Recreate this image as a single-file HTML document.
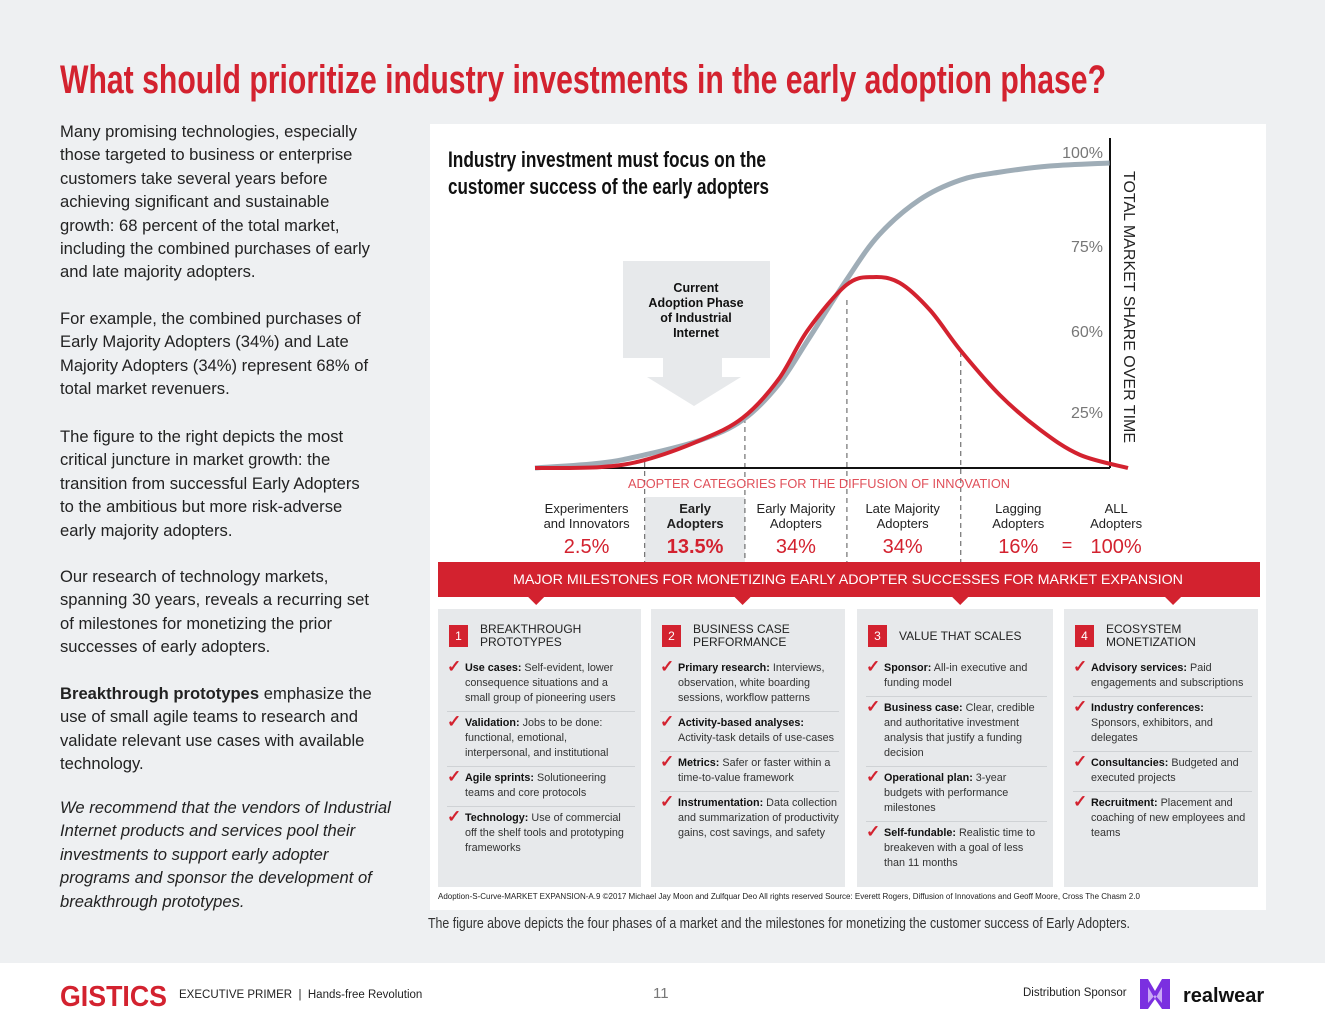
<!DOCTYPE html>
<html><head><meta charset="utf-8">
<style>
*{margin:0;padding:0;box-sizing:border-box}
body{width:1325px;height:1024px;position:relative;background:#eef0f2;font-family:"Liberation Sans",sans-serif;overflow:hidden;color:#222}
.p{position:absolute;left:60px;width:318px;font-size:16.6px;line-height:23.4px;color:#222}
#panel{position:absolute;left:430px;top:124px;width:836px;height:786px;background:#fff}
.col{position:absolute;top:609px;height:278px;background:#e7e9eb;padding:12px 6px 0 9px}
.hd{display:flex;align-items:center;height:30px;margin-bottom:6px;font-size:12px;line-height:13px;color:#222}
.num{width:19px;height:22px;background:#d3222f;color:#fff;font-size:12px;display:flex;align-items:center;justify-content:center;margin:0 12px 0 2px;flex:none}
.it{position:relative;padding:4px 0 5px 18px;font-size:10.8px;line-height:15px;border-bottom:1px solid #cfd2d5;color:#333}
.it:last-child{border-bottom:none}
.it b{color:#111}
.it:before{content:"✓";position:absolute;left:0;top:2px;color:#d3222f;font-weight:bold;font-size:17px}
#footer{position:absolute;left:0;top:963px;width:1325px;height:61px;background:#fff}
</style></head><body>
<svg style="position:absolute;left:0;top:50px" width="1325" height="60"><text x="60" y="43" textLength="1046" lengthAdjust="spacingAndGlyphs" font-family="Liberation Sans Narrow, Liberation Sans, sans-serif" font-weight="bold" font-size="40" fill="#d3222f">What should prioritize industry investments in the early adoption phase?</text></svg>

<div class="p" style="top:120px">Many promising technologies, especially those targeted to business or enterprise customers take several years before achieving significant and sustainable growth: 68 percent of the total market, including the combined purchases of early and late majority adopters.</div>
<div class="p" style="top:307px">For example, the combined purchases of Early Majority Adopters (34%) and Late Majority Adopters (34%) represent 68% of total market revenuers.</div>
<div class="p" style="top:425px">The figure to the right depicts the most critical juncture in market growth: the transition from successful Early Adopters to the ambitious but more risk-adverse early majority adopters.</div>
<div class="p" style="top:565px">Our research of technology markets, spanning 30 years, reveals a recurring set of milestones for monetizing the prior successes of early adopters.</div>
<div class="p" style="top:682px"><b>Breakthrough prototypes</b> emphasize the use of small agile teams to research and validate relevant use cases with available technology.</div>
<div class="p" style="top:796px;font-style:italic;width:340px">We recommend that the vendors of Industrial Internet products and services pool their investments to support early adopter programs and sponsor the development of breakthrough prototypes.</div>

<div id="panel"></div>

<svg id="chart" style="position:absolute;left:0;top:0" width="1325" height="610"></svg>

<div class="col" style="left:438px;width:203px">
<div class="hd"><span class="num">1</span>BREAKTHROUGH<br>PROTOTYPES</div>
<div class="it"><b>Use cases:</b> Self-evident, lower consequence situations and a small group of pioneering users</div>
<div class="it"><b>Validation:</b> Jobs to be done: functional, emotional, interpersonal, and institutional</div>
<div class="it"><b>Agile sprints:</b> Solutioneering teams and core protocols</div>
<div class="it"><b>Technology:</b> Use of commercial off the shelf tools and prototyping frameworks</div>
</div>
<div class="col" style="left:651px;width:194px">
<div class="hd"><span class="num">2</span>BUSINESS CASE<br>PERFORMANCE</div>
<div class="it"><b>Primary research:</b> Interviews, observation, white boarding sessions, workflow patterns</div>
<div class="it"><b>Activity-based analyses:</b> Activity-task details of use-cases</div>
<div class="it"><b>Metrics:</b> Safer or faster within a time-to-value framework</div>
<div class="it"><b>Instrumentation:</b> Data collection and summarization of productivity gains, cost savings, and safety</div>
</div>
<div class="col" style="left:857px;width:196px">
<div class="hd"><span class="num">3</span>VALUE THAT SCALES</div>
<div class="it"><b>Sponsor:</b> All-in executive and funding model</div>
<div class="it"><b>Business case:</b> Clear, credible and authoritative investment analysis that justify a funding decision</div>
<div class="it"><b>Operational plan:</b> 3-year budgets with performance milestones</div>
<div class="it"><b>Self-fundable:</b> Realistic time to breakeven with a goal of less than 11 months</div>
</div>
<div class="col" style="left:1064px;width:194px">
<div class="hd"><span class="num">4</span>ECOSYSTEM<br>MONETIZATION</div>
<div class="it"><b>Advisory services:</b> Paid engagements and subscriptions</div>
<div class="it"><b>Industry conferences:</b> Sponsors, exhibitors, and delegates</div>
<div class="it"><b>Consultancies:</b> Budgeted and executed projects</div>
<div class="it"><b>Recruitment:</b> Placement and coaching of new employees and teams</div>
</div>

<div style="position:absolute;left:438px;top:892px;font-size:8px;color:#222;white-space:nowrap">Adoption-S-Curve-MARKET EXPANSION-A.9 ©2017 Michael Jay Moon and Zulfquar Deo All rights reserved Source: Everett Rogers, Diffusion of Innovations and Geoff Moore, Cross The Chasm 2.0</div>
<svg style="position:absolute;left:428px;top:912px" width="720" height="22"><text x="0" y="16" textLength="702" lengthAdjust="spacingAndGlyphs" font-family="Liberation Sans Narrow, Liberation Sans, sans-serif" font-size="14.5" fill="#333">The figure above depicts the four phases of a market and the milestones for monetizing the customer success of Early Adopters.</text></svg>

<div id="footer">
<svg style="position:absolute;left:60px;top:18px" width="110" height="30"><text x="0" y="25" textLength="107" lengthAdjust="spacingAndGlyphs" font-family="Liberation Sans Narrow, Liberation Sans, sans-serif" font-weight="bold" font-size="29" fill="#d3222f">GISTICS</text></svg>
<div style="position:absolute;left:179px;top:26px;font-size:11.5px;color:#222">EXECUTIVE PRIMER &nbsp;|&nbsp; Hands-free Revolution</div>
<div style="position:absolute;left:653px;top:22px;font-size:15px;color:#777">11</div>
<div style="position:absolute;left:1023px;top:24px;font-size:11.5px;color:#222">Distribution Sponsor</div>
<svg style="position:absolute;left:1138px;top:14px" width="130" height="34"><path d="M2 2 L10 2 L17 14 L24 2 L32 2 L32 32 L24 32 L17 22 L10 32 L2 32Z" fill="#7b2fe0"/><path d="M10 10 L17 22 L24 10 L24 26 L17 18 L10 26Z" fill="#c9a8f5"/><text x="45" y="25" font-family="Liberation Sans, sans-serif" font-weight="bold" font-size="20" fill="#111">realwear</text></svg>
</div>

<script>
// chart data
const redTimes=[0,11,18.5,28,35,41,46,52.5,57,61.5,66.6,71.7,78.4,85.2,91.9,100];
const redValues=[0,0.3,2.6,9.2,16.4,28.9,45.2,60,62.6,60.7,51.8,38.7,23.9,12.5,4.3,0];
const grayTimes=[0,11,18.5,28,35,41,46,52.5,58,64.8,71.7,78.4,86.8,96.9];
const grayValues=[0,1.6,4.3,9.2,15.7,27.2,41.9,61.6,76.4,87.9,94.4,97,99,100];
const yTickLabels=["100%","75%","60%","25%"];
const yTickValues=[103.6,72.8,44.9,18.4];
const categories=[["Experimenters","and Innovators"],["Early","Adopters"],["Early Majority","Adopters"],["Late Majority","Adopters"],["Lagging","Adopters"],["ALL","Adopters"]];
const shares=["2.5%","13.5%","34%","34%","16%","100%"];
const boundaryTimes=[18.5,35.4,52.6,71.8];
const categoryTimes=[8.7,27,44,62,81.5,98];
const arrowTimes=[0.2,35,71.7,107.6];

const NS="http://www.w3.org/2000/svg";
const svg=document.getElementById('chart');
const X=t=>535+t/100*593;
const Y=v=>468-v*3.05;
function mk(tag,attrs,parent){const e=document.createElementNS(NS,tag);for(const k in attrs)e.setAttribute(k,attrs[k]);(parent||svg).appendChild(e);return e;}
function smooth(ts,vs){const p=ts.map((t,i)=>[X(t),Y(vs[i])]);let d="M"+p[0][0]+","+p[0][1];for(let i=0;i<p.length-1;i++){const p0=p[Math.max(0,i-1)],p1=p[i],p2=p[i+1],p3=p[Math.min(p.length-1,i+2)];const c1=[p1[0]+(p2[0]-p0[0])/6,p1[1]+(p2[1]-p0[1])/6],c2=[p2[0]-(p3[0]-p1[0])/6,p2[1]-(p3[1]-p1[1])/6];d+=` C${c1[0]},${c1[1]} ${c2[0]},${c2[1]} ${p2[0]},${p2[1]}`;}return d;}

let tt=mk('text',{x:448,y:167,"font-family":"Liberation Sans Narrow, Liberation Sans, sans-serif","font-weight":"bold","font-size":22,fill:"#111",textLength:318,lengthAdjust:"spacingAndGlyphs"});
tt.textContent="Industry investment must focus on the";


tt=mk('text',{x:448,y:194,"font-family":"Liberation Sans Narrow, Liberation Sans, sans-serif","font-weight":"bold","font-size":22,fill:"#111",textLength:321,lengthAdjust:"spacingAndGlyphs"});
tt.textContent="customer success of the early adopters";



let sh=mk('rect',{x:X(boundaryTimes[0]),y:497,width:X(boundaryTimes[1])-X(boundaryTimes[0]),height:65,fill:"#e7e9eb"});



let cb=mk('g',{});


mk('rect',{x:623,y:261,width:147,height:97,fill:"#e7e9eb"},cb);
mk('path',{d:"M663 358 L722 358 L722 377 L741 377 L694 406 L647 377 L663 377Z",fill:"#e7e9eb"},cb);
["Current","Adoption Phase","of Industrial","Internet"].forEach((s,i)=>{const t=mk('text',{x:696,y:292+i*15,"text-anchor":"middle","font-size":12.5,"font-weight":"bold",fill:"#111"},cb);t.textContent=s;});

const dashTops=[462,418,300,352];
boundaryTimes.forEach((t,i)=>{const l=mk('line',{x1:X(t),y1:dashTops[i],x2:X(t),y2:562,stroke:"#555","stroke-width":1,"stroke-dasharray":"5,4"});

});

let ax=mk('line',{x1:535,y1:468,x2:1110,y2:468,stroke:"#111","stroke-width":2});


ax=mk('line',{x1:1110,y1:138,x2:1110,y2:468,stroke:"#111","stroke-width":2});



let gc=mk('path',{d:smooth(grayTimes,grayValues),fill:"none",stroke:"#9fadb7","stroke-width":5});


let rc=mk('path',{d:smooth(redTimes,redValues),fill:"none",stroke:"#d3222f","stroke-width":4});



yTickLabels.forEach((s,i)=>{const t=mk('text',{x:1103,y:Y(yTickValues[i])+6,"text-anchor":"end","font-size":16,fill:"#777"});t.textContent=s;

});
let yt=mk('text',{x:1124,y:307,"text-anchor":"middle","font-size":16,fill:"#222",transform:"rotate(90 1124 307)"});
yt.textContent="TOTAL MARKET SHARE OVER TIME";



let xt=mk('text',{x:819,y:488,"text-anchor":"middle","font-size":13,fill:"#e0505a",textLength:382,lengthAdjust:"spacingAndGlyphs"});
xt.textContent="ADOPTER CATEGORIES FOR THE DIFFUSION OF INNOVATION";



categories.forEach((c,i)=>{const g=mk('g',{});


c.forEach((s,j)=>{const t=mk('text',{x:X(categoryTimes[i]),y:513+j*15,"text-anchor":"middle","font-size":13,fill:"#222","font-weight":i===1?"bold":"normal"},g);t.textContent=s;});
const v=mk('text',{x:X(categoryTimes[i]),y:553,"text-anchor":"middle","font-size":20,fill:"#d3222f","font-weight":i===1?"bold":"normal"},g);v.textContent=shares[i];});
let eq=mk('text',{x:1067,y:551,"text-anchor":"middle","font-size":18,fill:"#d3222f"});
eq.textContent="=";



let bn=mk('rect',{x:438,y:562,width:822,height:35,fill:"#d3222f"});


arrowTimes.forEach(t=>{const a=mk('path',{d:`M${X(t)-9},596 L${X(t)+9},596 L${X(t)},605Z`,fill:"#d3222f"});

});
let bt=mk('text',{x:848,y:584,"text-anchor":"middle","font-size":14,fill:"#fff",textLength:670,lengthAdjust:"spacingAndGlyphs"});
bt.textContent="MAJOR MILESTONES FOR MONETIZING EARLY ADOPTER SUCCESSES FOR MARKET EXPANSION";


</script>
</body></html>
